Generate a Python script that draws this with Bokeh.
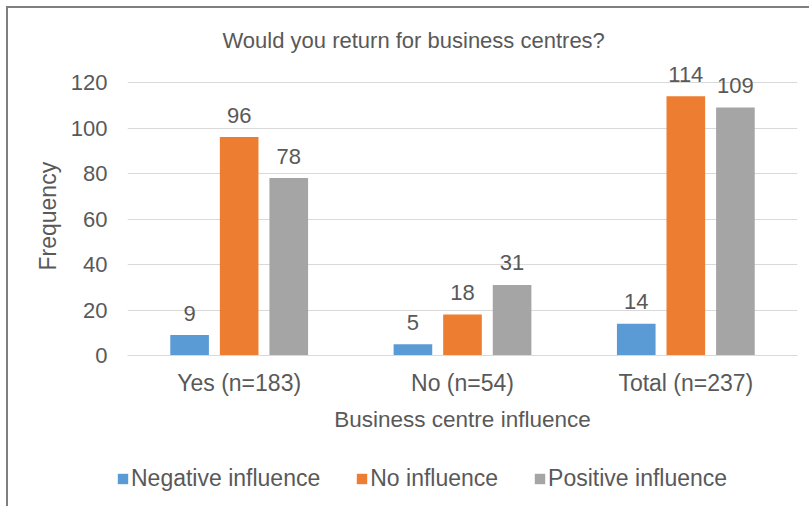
from bokeh.plotting import figure
from bokeh.layouts import column, row
from bokeh.models import (ColumnDataSource, LabelSet, Legend, LegendItem, Range1d,
                          FactorRange, FixedTicker, Title)
from bokeh.transform import dodge
from bokeh.embed import file_html
from bokeh.resources import INLINE
from bokeh.core.properties import value

# ---- data ----
categories = ["Yes (n=183)", "No (n=54)", "Total (n=237)"]
series_names = ["Negative influence", "No influence", "Positive influence"]
negative_influence = [9, 5, 14]
no_influence = [96, 18, 114]
positive_influence = [78, 31, 109]
y_ticks = [0, 20, 40, 60, 80, 100, 120]

colors = ["#5B9BD5", "#ED7D31", "#A5A5A5"]
FONT = "Liberation Sans"
TXT = "#595959"
FS = "22px"
FS_L = "23px"

src = ColumnDataSource(dict(
    cat=categories,
    neg=negative_influence, noi=no_influence, pos=positive_influence,
    neg_t=[str(v) for v in negative_influence],
    noi_t=[str(v) for v in no_influence],
    pos_t=[str(v) for v in positive_influence],
))

# ---------------- main chart ----------------
p = figure(x_range=FactorRange(*categories), y_range=Range1d(0, 120 * 300 / 273),
           width=801, height=430, output_backend="svg", toolbar_location=None,
           min_border_left=119, min_border_right=12, min_border_top=47, min_border_bottom=83,
           title="Would you return for business centres?")
p.outline_line_color = None
p.background_fill_color = "white"
p.border_fill_color = "white"

p.title.align = "left"
p.title.offset = 95
p.title.standoff = 5
p.title.text_font = FONT
p.title.text_font_size = FS
p.title.text_font_style = "normal"
p.title.text_color = TXT

p.xgrid.grid_line_color = None
p.ygrid.grid_line_color = "#d9d9d9"
p.ygrid.grid_line_width = 1

p.yaxis.ticker = FixedTicker(ticks=y_ticks)
p.yaxis.axis_line_color = None
p.yaxis.major_tick_line_color = None
p.yaxis.minor_tick_line_color = None
p.yaxis.major_label_standoff = 14

p.xaxis.axis_line_color = "#d9d9d9"
p.xaxis.major_tick_line_color = None
p.xaxis.minor_tick_line_color = None
p.xaxis.major_label_standoff = 8
p.xaxis.axis_label = "Business centre influence"
p.xaxis.axis_label_standoff = 8

for ax in (p.xaxis[0], p.yaxis[0]):
    ax.major_label_text_font = FONT
    ax.major_label_text_color = TXT
    ax.axis_label_text_font = FONT
    ax.axis_label_text_font_style = "normal"
    ax.axis_label_text_color = TXT
p.yaxis.major_label_text_font_size = FS
p.xaxis.major_label_text_font_size = FS_L
p.xaxis.axis_label_text_font_size = "22.5px"

# y-axis title, centred on the 0..120 span
ytitle = Title(text="Frequency", align="left", offset=85, standoff=13,
               text_font=FONT, text_font_size=FS_L, text_font_style="normal", text_color=TXT)
p.add_layout(ytitle, "left")

offsets = [-0.222, 0.0, 0.222]
fields = ["neg", "noi", "pos"]
for fld, off, col in zip(fields, offsets, colors):
    p.vbar(x=dodge("cat", off, range=p.x_range), top=fld, width=0.173,
           source=src, fill_color=col, line_color=None)
    p.add_layout(LabelSet(x=dodge("cat", off, range=p.x_range), y=fld, text=fld + "_t",
                          source=src, text_align="center", text_baseline="middle",
                          y_offset=22, text_font=value(FONT), text_font_size=value(FS),
                          text_color=TXT))

# ---------------- legend strip ----------------
# the strip's renderers only supply the legend swatches; their bars fall outside its range
leg_x = FactorRange(*categories)
pl = figure(x_range=leg_x, y_range=Range1d(1000, 1001), width=801, height=68,
            output_backend="svg", toolbar_location=None,
            x_axis_location=None, y_axis_location=None,
            min_border=0, min_border_left=0, min_border_right=0,
            min_border_top=0, min_border_bottom=0)
pl.outline_line_color = None
pl.grid.grid_line_color = None
pl.background_fill_color = "white"
pl.border_fill_color = "white"
items = []
for name, fld, off, col in zip(series_names, fields, offsets, colors):
    r = pl.vbar(x=dodge("cat", off, range=leg_x), top=fld, width=0,
                source=src, fill_color=col, line_color=None)
    items.append(LegendItem(label=name, renderers=[r]))

legend = Legend(items=items, location=(108, 14), orientation="horizontal",
                glyph_width=13, glyph_height=13, label_standoff=2, spacing=35,
                padding=0, margin=0, border_line_color=None, background_fill_alpha=0,
                label_text_font=FONT, label_text_font_size=FS_L, label_text_color=TXT)
pl.add_layout(legend)

layout = column(p, row(pl), spacing=0)
layout.styles = {"margin-left": "6px", "margin-top": "6px",
                 "border-left": "2px solid #7f7f7f", "border-top": "2px solid #7f7f7f"}

open("out.html", "w").write(file_html(layout, INLINE))
